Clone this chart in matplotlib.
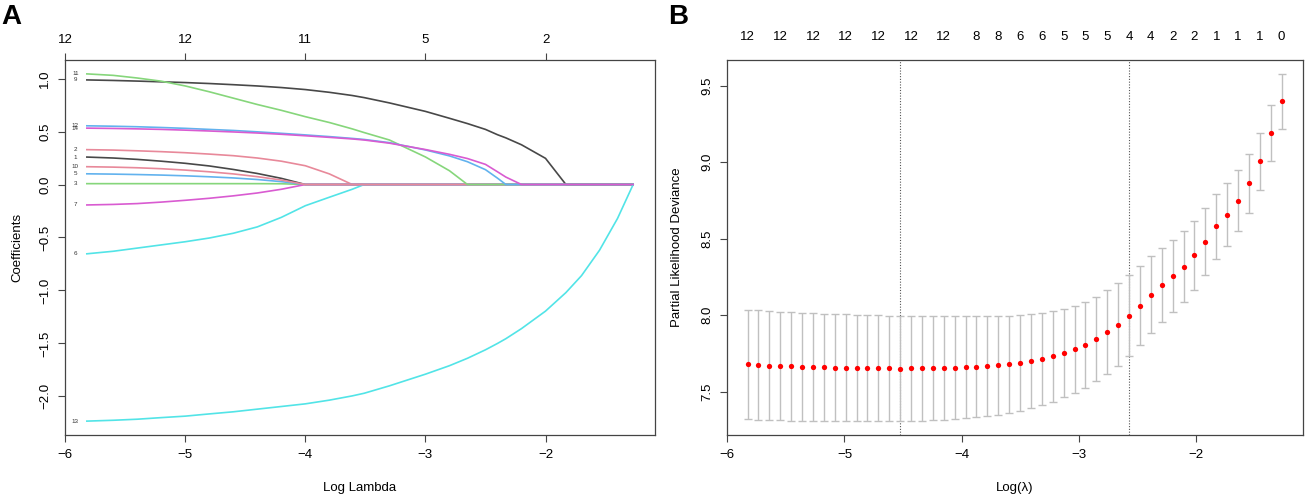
import matplotlib
matplotlib.use("Agg")
import matplotlib.pyplot as plt
import numpy as np

plt.rcParams['font.family'] = ['Liberation Sans', 'DejaVu Sans']

# ---------------- Panel A: coefficient paths ----------------
path_loglambda = [-5.82, -5.6, -5.4, -5.2, -5.0, -4.8, -4.6, -4.4, -4.2, -4.0, -3.8, -3.61,
                  -3.51, -3.3, -3.0, -2.8, -2.65, -2.5, -2.4, -2.33, -2.2, -2.0, -1.83,
                  -1.7, -1.55, -1.4, -1.27]
Z = 0.0
coef_1 = [0.259, 0.25, 0.237, 0.22, 0.20, 0.175, 0.142, 0.104, 0.058, Z] + [Z] * 17
coef_2 = [0.329, 0.325, 0.318, 0.31, 0.30, 0.287, 0.272, 0.25, 0.22, 0.177, 0.10, Z] + [Z] * 15
coef_3 = [0.008, 0.008, 0.008, 0.008, 0.008, 0.008, 0.008, 0.008, 0.007, Z] + [Z] * 17
coef_5 = [0.101, 0.098, 0.094, 0.089, 0.082, 0.073, 0.062, 0.047, 0.027, Z] + [Z] * 17
coef_6 = [-0.654, -0.63, -0.60, -0.57, -0.54, -0.505, -0.46, -0.40, -0.31, -0.20, -0.12,
          -0.045, Z] + [Z] * 14
coef_7 = [-0.193, -0.188, -0.18, -0.166, -0.149, -0.13, -0.107, -0.08, -0.045, Z] + [Z] * 17
coef_9 = [0.987, 0.982, 0.976, 0.969, 0.962, 0.953, 0.942, 0.93, 0.915, 0.896, 0.87, 0.84,
          0.82, 0.77, 0.69, 0.625, 0.575, 0.52, 0.47, 0.44, 0.375, 0.247, Z, Z, Z, Z, Z]
coef_10 = [0.168, 0.164, 0.158, 0.149, 0.136, 0.12, 0.10, 0.074, 0.042, Z] + [Z] * 17
coef_11 = [1.044, 1.03, 1.005, 0.975, 0.93, 0.875, 0.815, 0.755, 0.70, 0.64, 0.585, 0.525,
           0.49, 0.42, 0.26, 0.13, Z] + [Z] * 10
coef_12 = [0.554, 0.55, 0.545, 0.538, 0.53, 0.52, 0.51, 0.497, 0.483, 0.468, 0.452, 0.435,
           0.425, 0.395, 0.326, 0.27, 0.215, 0.14, 0.06, Z] + [Z] * 7
coef_13 = [-2.233, -2.225, -2.215, -2.20, -2.186, -2.165, -2.145, -2.12, -2.095, -2.07,
           -2.035, -1.995, -1.97, -1.90, -1.79, -1.71, -1.64, -1.56, -1.50, -1.455, -1.36,
           -1.195, -1.02, -0.86, -0.62, -0.32, Z]
coef_14 = [0.532, 0.529, 0.525, 0.52, 0.513, 0.505, 0.496, 0.486, 0.474, 0.46, 0.445, 0.43,
           0.42, 0.39, 0.33, 0.285, 0.245, 0.19, 0.12, 0.07, Z] + [Z] * 6

var_names = ["1", "2", "3", "5", "6", "7", "9", "10", "11", "12", "13", "14"]
var_coefs = [coef_1, coef_2, coef_3, coef_5, coef_6, coef_7, coef_9, coef_10, coef_11,
             coef_12, coef_13, coef_14]
palette = ["#484848", "#E8899A", "#86D67B", "#62B2EE", "#52E4E7", "#D95BD1"]

top_ticks_A = [-6, -5, -4, -3, -2]
top_labels_A = ["12", "12", "11", "5", "2"]

# ---------------- Panel B: cross-validation ----------------
cv_loglambda = [-5.827, -5.734, -5.641, -5.548, -5.455, -5.362, -5.269, -5.176, -5.083, -4.990,
                -4.897, -4.804, -4.711, -4.618, -4.525, -4.432, -4.339, -4.246, -4.153, -4.060,
                -3.967, -3.874, -3.781, -3.688, -3.595, -3.502, -3.409, -3.316, -3.223, -3.130,
                -3.037, -2.944, -2.851, -2.758, -2.665, -2.572, -2.479, -2.386, -2.293, -2.200,
                -2.107, -2.014, -1.921, -1.828, -1.735, -1.642, -1.549, -1.456, -1.363, -1.270]
cvm = [7.679, 7.674, 7.670, 7.668, 7.665, 7.663, 7.661, 7.659, 7.658, 7.657,
       7.655, 7.655, 7.654, 7.653, 7.651, 7.652, 7.652, 7.653, 7.655, 7.657,
       7.659, 7.663, 7.668, 7.673, 7.679, 7.690, 7.700, 7.713, 7.731, 7.753,
       7.777, 7.807, 7.844, 7.889, 7.939, 7.997, 8.062, 8.134, 8.197, 8.254,
       8.317, 8.391, 8.480, 8.580, 8.657, 8.748, 8.861, 9.005, 9.190, 9.397]
cvsd = [0.358, 0.357, 0.356, 0.355, 0.354, 0.353, 0.352, 0.351, 0.350, 0.349,
        0.348, 0.347, 0.346, 0.345, 0.344, 0.343, 0.341, 0.339, 0.337, 0.335,
        0.333, 0.330, 0.327, 0.323, 0.319, 0.314, 0.308, 0.302, 0.296, 0.290,
        0.285, 0.281, 0.277, 0.273, 0.269, 0.265, 0.257, 0.250, 0.243, 0.236,
        0.231, 0.224, 0.218, 0.210, 0.205, 0.200, 0.194, 0.188, 0.181, 0.179]
nzero = [12, 12, 12, 12, 12, 12, 12, 12, 12, 12, 12, 12, 12, 12, 12, 12, 12, 12, 12, 11,
         9, 8, 8, 8, 7, 6, 6, 6, 5, 5, 5, 5, 5, 5, 4, 4, 4, 4, 3, 2,
         2, 2, 1, 1, 1, 1, 1, 1, 1, 0]
nzero_label_idx = [0, 3, 6, 9, 12, 15, 18, 21, 23, 25, 27, 29, 31, 33, 35, 37, 39, 41, 43,
                   45, 47, 49]
lambda_min_idx = 14
lambda_1se_idx = 35

# ---------------- Figure ----------------
fig = plt.figure(figsize=(13.07, 4.96), dpi=100)
W, H = 1307, 496
axA = fig.add_axes([65 / W, 1 - 435 / H, 590 / W, 375 / H])
axB = fig.add_axes([727 / W, 1 - 435 / H, 576 / W, 375 / H])

tick_fs = 9.5
spine_col = "#444444"


def style_axes(ax):
    for s in ax.spines.values():
        s.set_color(spine_col)
        s.set_linewidth(0.9)
    ax.tick_params(axis='both', direction='out', length=5, width=0.8, color=spine_col,
                   labelsize=tick_fs, pad=5)
    ax.tick_params(axis='y', labelrotation=90)
    for lab in ax.get_yticklabels():
        lab.set_va('center')


# Panel A
for i, (name, c) in enumerate(zip(var_names, var_coefs)):
    col = palette[i % len(palette)]
    axA.plot(path_loglambda, c, color=col, lw=1.2, solid_joinstyle='round')
    axA.text(path_loglambda[0] - 0.095, c[0], name, fontsize=4.5, color="#333333",
             ha='center', va='center')
axA.set_xlim(-6.002, -1.088)
axA.set_ylim(-2.364, 1.175)
axA.set_xticks([-6, -5, -4, -3, -2])
axA.set_xticklabels(["\u22126", "\u22125", "\u22124", "\u22123", "\u22122"])
axA.set_yticks([-2.0, -1.5, -1.0, -0.5, 0.0, 0.5, 1.0])
axA.set_yticklabels(["\u22122.0", "\u22121.5", "\u22121.0", "\u22120.5", "0.0", "0.5", "1.0"])
style_axes(axA)
axA.set_xlabel("Log Lambda", fontsize=tick_fs)
axA.set_ylabel("Coefficients", fontsize=tick_fs)
axA.xaxis.set_label_coords(0.5, -0.125)
axA.yaxis.set_label_coords(-0.071, 0.5)

topA = axA.twiny()
topA.set_xlim(axA.get_xlim())
topA.set_xticks(top_ticks_A)
topA.set_xticklabels(top_labels_A)
topA.tick_params(axis='x', direction='out', length=5, width=0.8, color=spine_col,
                 labelsize=tick_fs, pad=5)
for s in topA.spines.values():
    s.set_visible(False)

# Panel B
axB.errorbar(cv_loglambda, cvm, yerr=cvsd, fmt='none', ecolor="#C0C0C0", elinewidth=1.0,
             capsize=3.2, capthick=1.0, zorder=2)
axB.plot(cv_loglambda, cvm, 'o', color='red', markersize=3.8, markeredgewidth=0, zorder=3)
axB.axvline(cv_loglambda[lambda_min_idx], color="#555555", ls=(0, (1, 1.5)), lw=0.8, zorder=1)
axB.axvline(cv_loglambda[lambda_1se_idx], color="#555555", ls=(0, (1, 1.5)), lw=0.8, zorder=1)
axB.set_xlim(-6.002, -1.088)
axB.set_ylim(7.217, 9.668)
axB.set_xticks([-6, -5, -4, -3, -2])
axB.set_xticklabels(["\u22126", "\u22125", "\u22124", "\u22123", "\u22122"])
axB.set_yticks([7.5, 8.0, 8.5, 9.0, 9.5])
axB.set_yticklabels(["7.5", "8.0", "8.5", "9.0", "9.5"])
style_axes(axB)
axB.set_xlabel("Log(\u03bb)", fontsize=tick_fs)
axB.set_ylabel("Partial Likelihood Deviance", fontsize=tick_fs)
axB.xaxis.set_label_coords(0.5, -0.125)
axB.yaxis.set_label_coords(-0.076, 0.5)

topB = axB.twiny()
topB.set_xlim(axB.get_xlim())
topB.set_xticks([cv_loglambda[i] for i in nzero_label_idx])
topB.set_xticklabels([str(nzero[i]) for i in nzero_label_idx])
topB.tick_params(axis='x', length=0, labelsize=tick_fs, pad=12)
for s in topB.spines.values():
    s.set_visible(False)

fig.text(1 / W, 1 - 4 / H, "A", fontsize=20, fontweight='bold', ha='left', va='top')
fig.text(668 / W, 1 - 4 / H, "B", fontsize=20, fontweight='bold', ha='left', va='top')

fig.savefig("out.png", dpi=100, facecolor='white')
